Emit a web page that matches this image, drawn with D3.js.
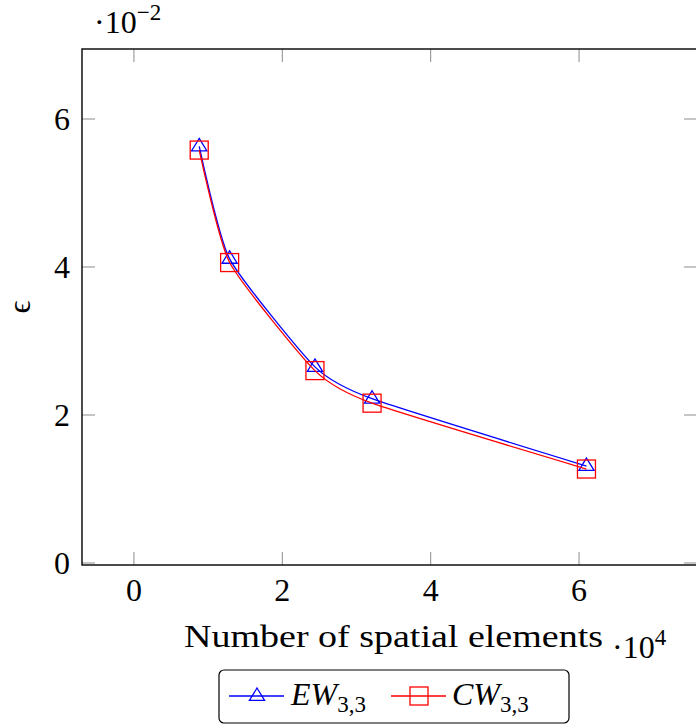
<!DOCTYPE html>
<html>
<head>
<meta charset="utf-8">
<script src="https://cdnjs.cloudflare.com/ajax/libs/d3/7.8.5/d3.min.js"></script>
<style>
  body { margin: 0; background: #fff; }
</style>
</head>
<body>
<script>
// data (x in units of 1e4, y in units of 1e-2)
const elements = [0.88, 1.29, 2.44, 3.21, 6.10];
const ewValues = [5.63, 4.11, 2.65, 2.22, 1.31];
const cwValues = [5.58, 4.06, 2.60, 2.16, 1.27];
const xTicks = [0, 2, 4, 6];
const yTicks = [0, 2, 4, 6];

const width = 696, height = 724;
const plot = { left: 82, top: 49, right: 697, bottom: 565 };

const svg = d3.select('body').append('svg')
    .attr('width', width)
    .attr('height', height)
    .attr('font-family', "'Liberation Serif', 'DejaVu Serif', serif");

const x = d3.scaleLinear().domain([-0.7, 7.59]).range([plot.left, plot.right]);
const y = d3.scaleLinear().domain([-0.027, 6.946]).range([plot.bottom, plot.top]);

// tick marks (inside, on all four sides)
const tickLen = 13;
const ticks = svg.append('g').attr('stroke', '#8c8c8c').attr('stroke-width', 1);
xTicks.forEach(t => {
    ticks.append('line').attr('x1', x(t)).attr('x2', x(t)).attr('y1', plot.bottom).attr('y2', plot.bottom - tickLen);
    ticks.append('line').attr('x1', x(t)).attr('x2', x(t)).attr('y1', plot.top).attr('y2', plot.top + tickLen);
});
yTicks.forEach(t => {
    ticks.append('line').attr('x1', plot.left).attr('x2', plot.left + tickLen).attr('y1', y(t)).attr('y2', y(t));
    ticks.append('line').attr('x1', plot.right).attr('x2', plot.right - tickLen).attr('y1', y(t)).attr('y2', y(t));
});

// tick labels
svg.append('g').selectAll('text')
    .data(xTicks).enter().append('text')
    .attr('x', d => x(d))
    .attr('y', 601)
    .attr('text-anchor', 'middle')
    .attr('font-size', 32)
    .text(d => d);

svg.append('g').selectAll('text')
    .data(yTicks).enter().append('text')
    .attr('x', 70)
    .attr('y', d => y(d) + 11)
    .attr('text-anchor', 'end')
    .attr('font-size', 32)
    .text(d => d);

// series
const line = d3.line()
    .x((d, i) => x(elements[i]))
    .y(d => y(d))
    .curve(d3.curveCardinal.tension(0.45));

svg.append('clipPath').attr('id', 'clip')
    .append('rect').attr('x', plot.left).attr('y', plot.top)
    .attr('width', plot.right - plot.left).attr('height', plot.bottom - plot.top);

const series = [
    { values: ewValues, color: '#0000ff', marker: 'triangle' },
    { values: cwValues, color: '#ff0000', marker: 'square' }
];

function drawMarker(g, type, cx, cy, color) {
    if (type === 'triangle') {
        const s = 8;
        g.append('path')
            .attr('d', `M${cx},${cy - s} L${cx + s * 0.95},${cy + s * 0.55} L${cx - s * 0.95},${cy + s * 0.55} Z`)
            .attr('fill', 'none').attr('stroke', color).attr('stroke-width', 1.3);
    } else {
        const s = 9;
        g.append('rect')
            .attr('x', cx - s).attr('y', cy - s).attr('width', 2 * s).attr('height', 2 * s)
            .attr('fill', 'none').attr('stroke', color).attr('stroke-width', 1.3);
    }
}

series.forEach(s => {
    const g = svg.append('g').attr('clip-path', 'url(#clip)');
    g.append('path')
        .attr('d', line(s.values))
        .attr('fill', 'none')
        .attr('stroke', s.color)
        .attr('stroke-width', 1.3);
    s.values.forEach((v, i) => drawMarker(g, s.marker, x(elements[i]), y(v), s.color));
});

// axis frame
svg.append('rect')
    .attr('x', plot.left).attr('y', plot.top)
    .attr('width', plot.right - plot.left).attr('height', plot.bottom - plot.top)
    .attr('fill', 'none').attr('stroke', '#000').attr('stroke-width', 1.4);

// scale factors
const yScaleLbl = svg.append('text').attr('x', 94).attr('y', 33).attr('font-size', 32);
yScaleLbl.append('tspan').text('\u00b710');
yScaleLbl.append('tspan').attr('dy', -13).attr('font-size', 23).text('\u22122');

const xScaleLbl = svg.append('text').attr('x', 612).attr('y', 658).attr('font-size', 32);
xScaleLbl.append('tspan').text('\u00b710');
xScaleLbl.append('tspan').attr('dy', -13).attr('font-size', 23).text('4');

// axis labels
svg.append('text')
    .attr('x', 184).attr('y', 647)
    .attr('textLength', 419)
    .attr('lengthAdjust', 'spacingAndGlyphs')
    .attr('font-size', 32)
    .text('Number of spatial elements');

svg.append('text')
    .attr('transform', 'translate(30, 307) rotate(-90)')
    .attr('text-anchor', 'middle')
    .attr('font-size', 32)
    .text('\u03f5');

// legend
const legend = svg.append('g');
legend.append('rect')
    .attr('x', 219).attr('y', 670).attr('width', 350).attr('height', 53)
    .attr('rx', 5).attr('fill', '#fff').attr('stroke', '#000').attr('stroke-width', 1.2);

const legendItems = [
    { name: 'EW', x0: 229, color: '#0000ff', marker: 'triangle', tx: 291 },
    { name: 'CW', x0: 391, color: '#ff0000', marker: 'square', tx: 452 }
];
legendItems.forEach(d => {
    const ly = 696;
    legend.append('line')
        .attr('x1', d.x0).attr('x2', d.x0 + 55).attr('y1', ly).attr('y2', ly)
        .attr('stroke', d.color).attr('stroke-width', 1.3);
    drawMarker(legend, d.marker, d.x0 + 28, ly, d.color);
    const t = legend.append('text').attr('x', d.tx).attr('y', 705).attr('font-size', 32);
    t.append('tspan').attr('font-style', 'italic').text(d.name);
    t.append('tspan').attr('dy', 7).attr('font-size', 23).text('3,3');
});
</script>
</body>
</html>
